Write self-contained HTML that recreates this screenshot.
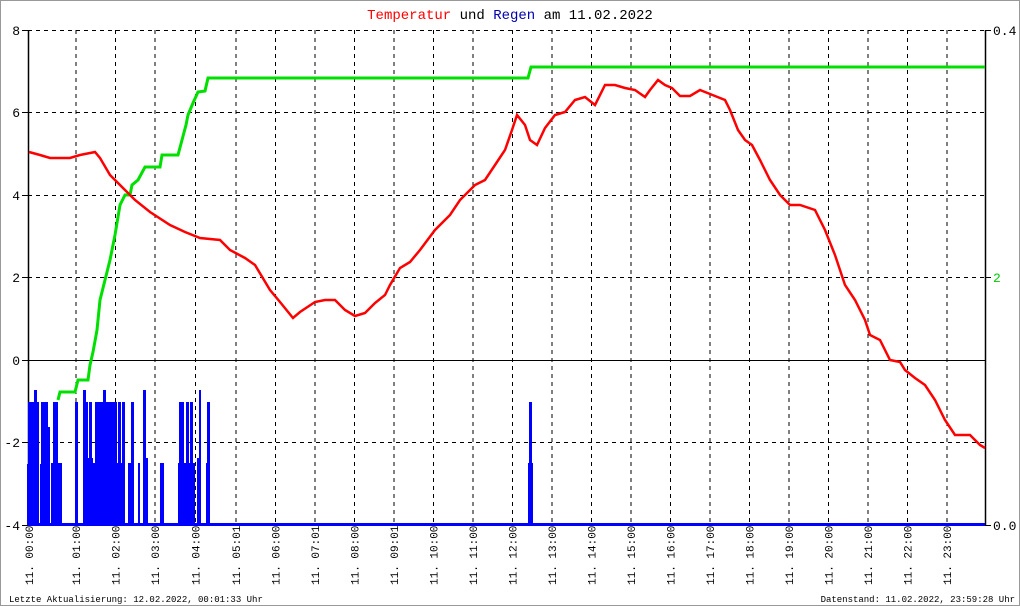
<!DOCTYPE html>
<html><head><meta charset="utf-8"><style>
html,body{margin:0;padding:0;background:#fff}
svg{display:block}
text{font-family:"Liberation Mono","DejaVu Sans Mono",monospace}
</style></head><body>
<svg width="1020" height="606" viewBox="0 0 1020 606" xmlns="http://www.w3.org/2000/svg">
<rect x="0.5" y="0.5" width="1019" height="605" fill="#fff" stroke="#999"/>
<text x="510" y="19" text-anchor="middle" font-size="14"><tspan fill="#f00">Temperatur</tspan> und <tspan fill="#00a">Regen</tspan> am 11.02.2022</text>
<g stroke="#000" stroke-dasharray="4,4" stroke-width="1">
<line x1="28" y1="30.5" x2="985" y2="30.5"/><line x1="28" y1="112.5" x2="985" y2="112.5"/><line x1="28" y1="195.5" x2="985" y2="195.5"/><line x1="28" y1="277.5" x2="985" y2="277.5"/><line x1="28" y1="360.5" x2="985" y2="360.5" stroke-dasharray="none"/><line x1="28" y1="442.5" x2="985" y2="442.5"/>
<line x1="76" y1="30" x2="76" y2="525"/><line x1="115.5" y1="30" x2="115.5" y2="525"/><line x1="155" y1="30" x2="155" y2="525"/><line x1="195.5" y1="30" x2="195.5" y2="525"/><line x1="236" y1="30" x2="236" y2="525"/><line x1="275.5" y1="30" x2="275.5" y2="525"/><line x1="315" y1="30" x2="315" y2="525"/><line x1="354.5" y1="30" x2="354.5" y2="525"/><line x1="394" y1="30" x2="394" y2="525"/><line x1="433.5" y1="30" x2="433.5" y2="525"/><line x1="473" y1="30" x2="473" y2="525"/><line x1="512.5" y1="30" x2="512.5" y2="525"/><line x1="552" y1="30" x2="552" y2="525"/><line x1="591.5" y1="30" x2="591.5" y2="525"/><line x1="631" y1="30" x2="631" y2="525"/><line x1="670.5" y1="30" x2="670.5" y2="525"/><line x1="710" y1="30" x2="710" y2="525"/><line x1="749.5" y1="30" x2="749.5" y2="525"/><line x1="789" y1="30" x2="789" y2="525"/><line x1="828.5" y1="30" x2="828.5" y2="525"/><line x1="868" y1="30" x2="868" y2="525"/><line x1="907.5" y1="30" x2="907.5" y2="525"/><line x1="947" y1="30" x2="947" y2="525"/>
</g>
<g stroke="#000" stroke-width="1.5"><line x1="28.5" y1="30" x2="28.5" y2="526"/><line x1="985.5" y1="30" x2="985.5" y2="526"/></g>
<g stroke="#000"><line x1="22" y1="30.5" x2="28" y2="30.5"/><line x1="22" y1="112.5" x2="28" y2="112.5"/><line x1="22" y1="195.5" x2="28" y2="195.5"/><line x1="22" y1="277.5" x2="28" y2="277.5"/><line x1="22" y1="360.5" x2="28" y2="360.5"/><line x1="22" y1="442.5" x2="28" y2="442.5"/><line x1="22" y1="525.5" x2="28" y2="525.5"/>
<line x1="985" y1="30.5" x2="991" y2="30.5"/><line x1="985" y1="277.5" x2="991" y2="277.5"/><line x1="985" y1="525.5" x2="991" y2="525.5"/></g>
<g font-size="13" text-anchor="end"><text x="20" y="35">8</text><text x="20" y="117">6</text><text x="20" y="200">4</text><text x="20" y="282">2</text><text x="20" y="365">0</text><text x="20" y="447">-2</text><text x="20" y="530">-4</text></g>
<g font-size="13"><text x="993" y="35">0.4</text><text x="993" y="282" fill="#0c0">2</text><text x="993" y="530">0.0</text></g>
<polyline fill="none" stroke="#00e000" stroke-width="3" points="58,400 60,392 75,392 78,380 88,380 90,365 93,352 97,330 100,300 105,280 110,260 115,235 120,205 125,195 130,195 132,185 138,180 145,167 160,167 162,155 178,155 182,140 186,125 188,115 193,103 198,92 205,91 208,78 528,78 531,67 985,67"/>
<polyline fill="none" stroke="#f00" stroke-width="2.5" points="29,152 40,155 50,158 70,158 80,155 95,152 100,158 110,175 125,190 135,200 150,212 170,225 185,232 200,238 220,240 230,250 245,258 255,265 270,290 280,302 293,318 300,312 315,302 325,300 335,300 345,310 355,316 365,313 375,303 385,295 390,285 400,268 410,262 420,250 435,230 450,215 460,200 475,185 485,180 495,165 505,150 512,130 517,115 525,125 530,140 537,145 545,128 555,115 565,112 575,100 585,97 595,105 605,85 615,85 625,88 635,90 645,97 650,90 658,80 665,85 672,88 680,96 690,96 700,90 710,94 720,98 725,100 730,110 738,130 745,140 752,145 760,160 770,180 780,195 790,205 800,205 815,210 825,230 835,255 845,285 855,300 865,320 870,335 880,340 890,360 900,362 905,370 915,378 925,385 935,400 945,420 955,435 970,435 980,445 985,448"/>
<g fill="#0000ff">
<rect x="28" y="523" width="957" height="3"/>
<rect x="27" y="464" width="2" height="61"/><rect x="28" y="402" width="6" height="123"/><rect x="34" y="390" width="3" height="135"/><rect x="37" y="402" width="2" height="123"/><rect x="40" y="464" width="2" height="61"/><rect x="41" y="402" width="7" height="123"/><rect x="47" y="427" width="3" height="98"/><rect x="51" y="463" width="11" height="62"/><rect x="53" y="402" width="5" height="123"/>
<rect x="75" y="402" width="3" height="123"/><rect x="83" y="390" width="3" height="135"/><rect x="84" y="458" width="9" height="67"/><rect x="86" y="402" width="2" height="123"/><rect x="89" y="402" width="3" height="123"/><rect x="93" y="463" width="9" height="62"/><rect x="95" y="402" width="7" height="123"/><rect x="100" y="402" width="17" height="123"/><rect x="103" y="390" width="3" height="135"/><rect x="115" y="463" width="10" height="62"/><rect x="118" y="402" width="3" height="123"/><rect x="122" y="402" width="3" height="123"/><rect x="128" y="463" width="4" height="62"/><rect x="131" y="402" width="3" height="123"/><rect x="138" y="463" width="2" height="62"/><rect x="143" y="390" width="3" height="135"/><rect x="146" y="458" width="2" height="67"/><rect x="160" y="463" width="4" height="62"/>
<rect x="178" y="463" width="17" height="62"/><rect x="179" y="402" width="5" height="123"/><rect x="186" y="402" width="3" height="123"/><rect x="190" y="402" width="3" height="123"/><rect x="197" y="458" width="4" height="67"/><rect x="199" y="390" width="2" height="135"/><rect x="206" y="463" width="4" height="62"/><rect x="207" y="402" width="3" height="123"/>
<rect x="528" y="463" width="5" height="62"/><rect x="529" y="402" width="3" height="123"/>
</g>
<g font-size="11">
<text transform="translate(33,585) rotate(-90)">11. 00:00</text>
<text transform="translate(80,585) rotate(-90)">11. 01:00</text>
<text transform="translate(119.5,585) rotate(-90)">11. 02:00</text>
<text transform="translate(159,585) rotate(-90)">11. 03:00</text>
<text transform="translate(199.5,585) rotate(-90)">11. 04:00</text>
<text transform="translate(240,585) rotate(-90)">11. 05:01</text>
<text transform="translate(279.5,585) rotate(-90)">11. 06:00</text>
<text transform="translate(319,585) rotate(-90)">11. 07:01</text>
<text transform="translate(358.5,585) rotate(-90)">11. 08:00</text>
<text transform="translate(398,585) rotate(-90)">11. 09:01</text>
<text transform="translate(437.5,585) rotate(-90)">11. 10:00</text>
<text transform="translate(477,585) rotate(-90)">11. 11:00</text>
<text transform="translate(516.5,585) rotate(-90)">11. 12:00</text>
<text transform="translate(556,585) rotate(-90)">11. 13:00</text>
<text transform="translate(595.5,585) rotate(-90)">11. 14:00</text>
<text transform="translate(635,585) rotate(-90)">11. 15:00</text>
<text transform="translate(674.5,585) rotate(-90)">11. 16:00</text>
<text transform="translate(714,585) rotate(-90)">11. 17:00</text>
<text transform="translate(753.5,585) rotate(-90)">11. 18:00</text>
<text transform="translate(793,585) rotate(-90)">11. 19:00</text>
<text transform="translate(832.5,585) rotate(-90)">11. 20:00</text>
<text transform="translate(872,585) rotate(-90)">11. 21:00</text>
<text transform="translate(911.5,585) rotate(-90)">11. 22:00</text>
<text transform="translate(951,585) rotate(-90)">11. 23:00</text>
</g>
<g font-size="9"><text x="9" y="602">Letzte Aktualisierung: 12.02.2022, 00:01:33 Uhr</text><text x="1015" y="602" text-anchor="end">Datenstand: 11.02.2022, 23:59:28 Uhr</text></g>
</svg>
</body></html>
